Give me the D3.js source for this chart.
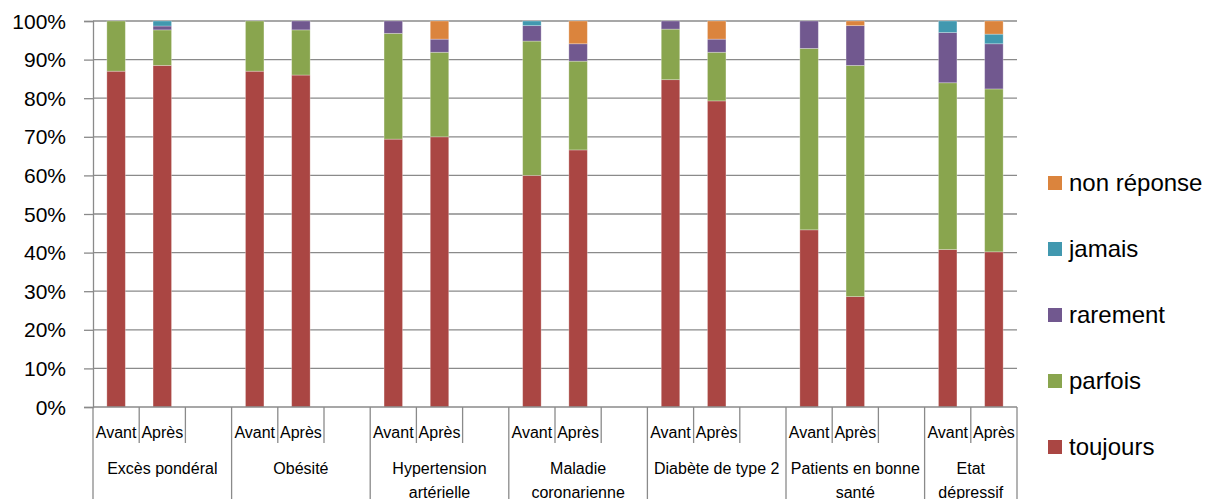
<!DOCTYPE html>
<html><head><meta charset="utf-8">
<script src="https://cdn.jsdelivr.net/npm/d3@7/dist/d3.min.js"></script>
<style>body{margin:0;background:#fff}svg{display:block}text{font-family:"Liberation Sans",Arial,sans-serif;fill:#000}</style>
</head><body><svg id="c" width="1206" height="499"></svg>
<script>
const categories = ["Excès pondéral","Obésité","Hypertension artérielle","Maladie coronarienne","Diabète de type 2","Patients en bonne santé","Etat dépressif"];
const phases = ["Avant","Après"];
const seriesNames = ["toujours","parfois","rarement","jamais","non réponse"];
const toujours   = [87, 88.5, 87, 86, 69.4, 70, 60, 66.6, 84.8, 79.3, 45.9, 28.6, 40.8, 40.2];
const parfois    = [13, 9.2, 13, 11.7, 27.4, 21.9, 34.8, 23, 13.1, 12.6, 47, 59.9, 43.2, 42.2];
const rarement   = [0, 1.0, 0, 2.3, 3.2, 3.4, 4.0, 4.5, 2.1, 3.4, 7.1, 10.3, 13.0, 11.7];
const jamais     = [0, 1.3, 0, 0, 0, 0, 1.2, 0, 0, 0, 0, 0, 3.0, 2.5];
const nonReponse = [0, 0, 0, 0, 0, 4.7, 0, 5.9, 0, 4.7, 0, 1.2, 0, 3.4];
const yTicks = [0,10,20,30,40,50,60,70,80,90,100];
const colors = ["#AA4643","#89A54E","#71588F","#4198AF","#DB843D"];

(function(){
const seriesValues = [toujours, parfois, rarement, jamais, nonReponse];
const svg = d3.select("#c");
const mLeft = 93, mRight = 1017, mTop = 21, mBottom = 407;
const grid = "#8a8a8a";

// slots: each group has Avant, Après and a blank spacer (except the last group)
const slots = [];
categories.forEach((c, gi) => {
  phases.forEach((p, pi) => slots.push({id: gi+"-"+pi, g: gi, label: p, idx: gi*2+pi}));
  if (gi < categories.length - 1) slots.push({id: gi+"-blank", g: gi, label: "", idx: -1});
});
const x = d3.scaleBand().domain(slots.map(s => s.id)).range([mLeft, mRight]).padding(0);
const y = d3.scaleLinear().domain([0, 100]).range([mBottom, mTop]);

// gridlines
svg.append("g").selectAll("line").data(yTicks.filter(t => t > 0)).join("line")
  .attr("x1", mLeft).attr("x2", mRight).attr("y1", d => y(d)).attr("y2", d => y(d))
  .attr("stroke", grid).attr("stroke-width", 1.3);

// y axis
const yAxis = svg.append("g").attr("transform", `translate(${mLeft},0)`)
  .call(d3.axisLeft(y).tickValues(yTicks).tickFormat(d => d + "%").tickSize(9).tickPadding(18));
yAxis.attr("font-family", null).attr("font-size", null);
yAxis.select(".domain").attr("stroke", grid).attr("stroke-width", 1.3);
yAxis.selectAll(".tick line").attr("stroke", grid).attr("stroke-width", 1.3);
yAxis.selectAll(".tick text").style("font-size", "21px").attr("fill", "#000").attr("dy", "0.34em");

// stacked bars
const rows = slots.filter(s => s.idx >= 0).map(s => {
  const r = {id: s.id};
  seriesNames.forEach((n, si) => r[n] = seriesValues[si][s.idx]);
  return r;
});
const stacked = d3.stack().keys(seriesNames)(rows);
const bw = x.bandwidth() * 0.4;
svg.append("g").selectAll("g").data(stacked).join("g")
  .attr("fill", (d, i) => colors[i])
  .selectAll("rect").data(d => d.filter(p => p[1] - p[0] > 0)).join("rect")
  .attr("x", d => x(d.data.id) + (x.bandwidth() - bw) / 2)
  .attr("width", bw)
  .attr("y", d => y(d[1]))
  .attr("height", d => y(d[0]) - y(d[1]))
  .attr("stroke", "rgba(255,255,255,0.35)").attr("stroke-width", 0.8);

// x axis line
svg.append("line").attr("x1", mLeft).attr("x2", mRight).attr("y1", mBottom).attr("y2", mBottom)
  .attr("stroke", grid).attr("stroke-width", 1.3);

// category ticks
const bounds = [];
slots.forEach((s, i) => {
  const isGroupStart = i === 0 || slots[i-1].g !== s.g;
  bounds.push({x: x(s.id), long: isGroupStart});
});
bounds.push({x: mRight, long: true});
svg.append("g").selectAll("line").data(bounds).join("line")
  .attr("x1", d => d.x).attr("x2", d => d.x)
  .attr("y1", mBottom).attr("y2", d => d.long ? 499 : 443)
  .attr("stroke", grid).attr("stroke-width", 1.3);

// level-1 labels
svg.append("g").selectAll("text").data(slots.filter(s => s.label)).join("text")
  .attr("x", s => x(s.id) + x.bandwidth() / 2).attr("y", 432)
  .attr("text-anchor", "middle").attr("dy", "0.35em").style("font-size", "16px")
  .text(s => s.label);

// group labels (wrapped)
categories.forEach((c, gi) => {
  const gs = slots.filter(s => s.g === gi);
  const x0 = x(gs[0].id), x1 = x(gs[gs.length-1].id) + x.bandwidth();
  const maxW = x1 - x0 - 3;
  const t = svg.append("text").attr("text-anchor", "middle").style("font-size", "16px");
  const words = c.split(" ");
  const lines = [];
  let cur = "";
  const probe = svg.append("text").style("font-size", "16px");
  words.forEach(w => {
    const test = cur ? cur + " " + w : w;
    probe.text(test);
    if (probe.node().getComputedTextLength() > maxW && cur) { lines.push(cur); cur = w; }
    else cur = test;
  });
  lines.push(cur);
  probe.remove();
  lines.forEach((ln, li) => t.append("tspan").attr("x", (x0 + x1) / 2).attr("y", 468 + li * 24)
    .attr("dy", "0.35em").text(ln));
});

// legend
const legendOrder = [4, 3, 2, 1, 0];
const lg = svg.append("g");
legendOrder.forEach((si, k) => {
  const cy = 183 + k * 66;
  lg.append("rect").attr("x", 1048).attr("y", cy - 7).attr("width", 14).attr("height", 14).attr("fill", colors[si]);
  lg.append("text").attr("x", 1069).attr("y", cy).attr("dy", "0.35em").style("font-size", "24px").text(seriesNames[si]);
});
})();
</script></body></html>
